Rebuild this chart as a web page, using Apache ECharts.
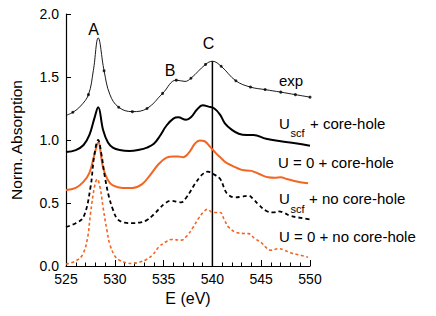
<!DOCTYPE html>
<html><head><meta charset="utf-8">
<script src="https://cdn.jsdelivr.net/npm/echarts@6/dist/echarts.min.js"></script>
<style>html,body{margin:0;padding:0;background:#fff}#c{width:436px;height:316px}</style>
</head><body><div id="c"></div>
<script>
// ---- data ----
const xTicks = [525, 530, 535, 540, 545, 550];
const yTicks = [0.0, 0.5, 1.0, 1.5, 2.0];

const expX = [525, 525.7, 526.5, 527.3, 527.8, 528.3, 528.9, 529.5, 530.4, 531.8, 533.3, 534.9, 536.3, 537.2, 537.8, 539.3, 540, 540.9, 542.4, 543.9, 545.4, 547, 548.5, 550];
const expY = [1.195, 1.22, 1.27, 1.36, 1.55, 1.81, 1.55, 1.36, 1.26, 1.225, 1.25, 1.37, 1.475, 1.465, 1.49, 1.60, 1.625, 1.585, 1.47, 1.42, 1.40, 1.38, 1.36, 1.34];
const expDotX = [525.7, 527.3, 528.9, 530.4, 531.8, 533.3, 534.9, 536.3, 537.8, 539.3, 540.9, 542.4, 543.9, 545.4, 547, 548.5, 550];
const expDotY = [1.22, 1.36, 1.55, 1.26, 1.225, 1.25, 1.37, 1.475, 1.49, 1.60, 1.585, 1.47, 1.42, 1.40, 1.38, 1.36, 1.34];

const uscfChX = [525, 526, 526.8, 527.4, 527.9, 528.3, 528.8, 529.3, 529.8, 530.5, 531.5, 532.5, 533.3, 534, 534.6, 535.3, 536, 536.5, 537.3, 537.8, 538.4, 539, 539.6, 540.2, 540.8, 541.3, 542, 542.7, 543.5, 544.2, 545.5, 547, 548.5, 550];
const uscfChY = [0.905, 0.92, 0.96, 1.04, 1.17, 1.26, 1.08, 0.98, 0.94, 0.92, 0.912, 0.922, 0.94, 0.97, 1.03, 1.115, 1.17, 1.18, 1.16, 1.18, 1.24, 1.275, 1.265, 1.25, 1.20, 1.13, 1.08, 1.05, 1.04, 1.04, 1.01, 0.99, 0.975, 0.954];

const u0ChX = [525, 526, 526.8, 527.4, 527.9, 528.3, 528.8, 529.3, 529.8, 530.8, 531.8, 532.8, 533.6, 534.5, 535.3, 536, 536.5, 537, 537.6, 538.2, 538.7, 539.2, 539.8, 540.3, 540.8, 541.4, 542, 543, 544, 544.8, 545.7, 546.4, 547, 547.6, 548.3, 549, 549.8];
const u0ChY = [0.603, 0.62, 0.67, 0.74, 0.88, 0.98, 0.78, 0.68, 0.64, 0.62, 0.62, 0.65, 0.72, 0.81, 0.86, 0.87, 0.87, 0.863, 0.90, 0.97, 0.996, 0.99, 0.943, 0.90, 0.863, 0.82, 0.797, 0.763, 0.755, 0.73, 0.704, 0.70, 0.704, 0.69, 0.677, 0.665, 0.656];

const uscfNoX = [525, 526, 526.8, 527.5, 527.9, 528.3, 528.6, 529, 529.4, 529.8, 530.3, 531, 531.8, 532.5, 533.2, 534, 534.5, 535.2, 535.8, 536.4, 536.8, 537.3, 537.8, 538.2, 538.7, 539.1, 539.5, 540.2, 540.8, 541.2, 541.5, 542.3, 543, 543.7, 544.2, 544.7, 545.5, 546.2, 546.8, 547.4, 548, 548.8, 550];
const uscfNoY = [0.31, 0.34, 0.39, 0.62, 0.88, 1.0, 0.90, 0.70, 0.55, 0.45, 0.37, 0.345, 0.34, 0.345, 0.36, 0.41, 0.45, 0.50, 0.518, 0.51, 0.505, 0.54, 0.60, 0.65, 0.704, 0.735, 0.749, 0.725, 0.69, 0.62, 0.575, 0.544, 0.55, 0.558, 0.53, 0.49, 0.438, 0.425, 0.433, 0.42, 0.398, 0.385, 0.37];

const u0NoX = [525, 526, 526.7, 527.2, 527.5, 527.9, 528.2, 528.5, 528.8, 529.2, 529.5, 530, 530.5, 531.2, 531.8, 532.5, 533.2, 533.9, 534.5, 535.2, 535.8, 536.8, 537.4, 538, 538.6, 539.1, 539.5, 540, 540.8, 541.2, 541.7, 542.5, 543.2, 543.7, 544.3, 545, 545.6, 546, 546.8, 547.4, 548, 548.8, 549.8];
const u0NoY = [0.015, 0.04, 0.09, 0.22, 0.41, 0.62, 0.69, 0.62, 0.465, 0.28, 0.17, 0.08, 0.045, 0.025, 0.02, 0.03, 0.05, 0.09, 0.15, 0.19, 0.21, 0.205, 0.24, 0.305, 0.38, 0.43, 0.45, 0.425, 0.425, 0.37, 0.305, 0.265, 0.258, 0.257, 0.22, 0.186, 0.14, 0.125, 0.138, 0.125, 0.106, 0.09, 0.07];

const cLineX = [540, 540];
const cLineY = [0, 1.625];

const peakLabels = ['A', 'B', 'C'];
// each label: [main text, subscript, rest]
const seriesLabels = [
  ['exp', '', ''],
  ['U', 'scf', '+ core-hole'],
  ['U = 0 + core-hole', '', ''],
  ['U', 'scf', '+ no core-hole'],
  ['U = 0 + no core-hole', '', '']
];

// ---- chart ----
const pairs = (xs, ys) => xs.map((x, i) => [x, ys[i]]);
const FONT = '"Liberation Sans", Arial, Helvetica, sans-serif';
const ORANGE = '#f26522';
const chart = echarts.init(document.getElementById('c'), null, {renderer: 'svg'});

function lineSeries(name, xs, ys, color, width, type) {
  return {
    name, type: 'line', data: pairs(xs, ys), smooth: 0.4, showSymbol: false,
    lineStyle: {color, width, type: type || 'solid'}, silent: true
  };
}

const labelPos = [[279, 80.7], [279, 123], [278, 162.7], [279, 198.3], [279, 236]];
const subPos = [null, [290.5, 132.5], null, [290.5, 208.5], null];
const restX = [null, 310, null, 309, null];
const peakPos = [[93.5, 29], [170, 70], [208.5, 43]];

function txt(x, y, t, size, align) {
  return {
    type: 'text', x, y,
    style: {text: t, fill: '#000', font: size + 'px ' + FONT, align: align || 'left', verticalAlign: 'middle'}
  };
}
const graphic = [];
seriesLabels.forEach((l, i) => {
  graphic.push(txt(labelPos[i][0], labelPos[i][1], l[0], 15));
  if (l[1]) graphic.push(txt(subPos[i][0], subPos[i][1], l[1], 11));
  if (l[2]) graphic.push(txt(restX[i], labelPos[i][1], l[2], 15));
});
peakLabels.forEach((t, i) => graphic.push(txt(peakPos[i][0], peakPos[i][1], t, 16, 'center')));

chart.setOption({
  animation: false,
  backgroundColor: '#fff',
  grid: {left: 60, right: 126, top: 14, bottom: 50},
  xAxis: {
    type: 'value', min: xTicks[0], max: xTicks[xTicks.length - 1], interval: 5,
    name: 'E (eV)', nameLocation: 'middle', nameGap: 22,
    nameTextStyle: {fontSize: 16, color: '#000', fontFamily: FONT},
    axisLine: {lineStyle: {color: '#000', width: 1.2}},
    axisTick: {inside: true, length: 6, lineStyle: {color: '#000', width: 1}},
    minorTick: {show: true, splitNumber: 5, length: 3.5, lineStyle: {color: '#000', width: 1}},
    splitLine: {show: false},
    axisLabel: {color: '#000', fontSize: 14, margin: 6, fontFamily: FONT}
  },
  yAxis: {
    type: 'value', min: yTicks[0], max: yTicks[yTicks.length - 1], interval: 0.5,
    name: 'Norm. Absorption', nameLocation: 'middle', nameGap: 42,
    nameTextStyle: {fontSize: 15.5, color: '#000', fontFamily: FONT},
    axisLine: {show: true, lineStyle: {color: '#000', width: 1.2}},
    axisTick: {show: true, inside: true, length: 5, lineStyle: {color: '#000', width: 1}},
    splitLine: {show: false},
    axisLabel: {color: '#000', fontSize: 14, margin: 7, fontFamily: FONT, formatter: v => v.toFixed(1)}
  },
  series: [
    {name: 'C', type: 'line', data: pairs(cLineX, cLineY), showSymbol: false, lineStyle: {color: '#000', width: 1.5}, silent: true},
    lineSeries('exp', expX, expY, '#000', 0.9),
    {name: 'exp dots', type: 'scatter', data: pairs(expDotX, expDotY), symbolSize: 3, itemStyle: {color: '#000'}, silent: true},
    lineSeries('Uscf + core-hole', uscfChX, uscfChY, '#000', 2),
    lineSeries('U = 0 + core-hole', u0ChX, u0ChY, ORANGE, 2),
    lineSeries('Uscf + no core-hole', uscfNoX, uscfNoY, '#000', 1.8, [4, 3]),
    lineSeries('U = 0 + no core-hole', u0NoX, u0NoY, ORANGE, 1.6, [3, 2.5])
  ],
  graphic
});
</script></body></html>
